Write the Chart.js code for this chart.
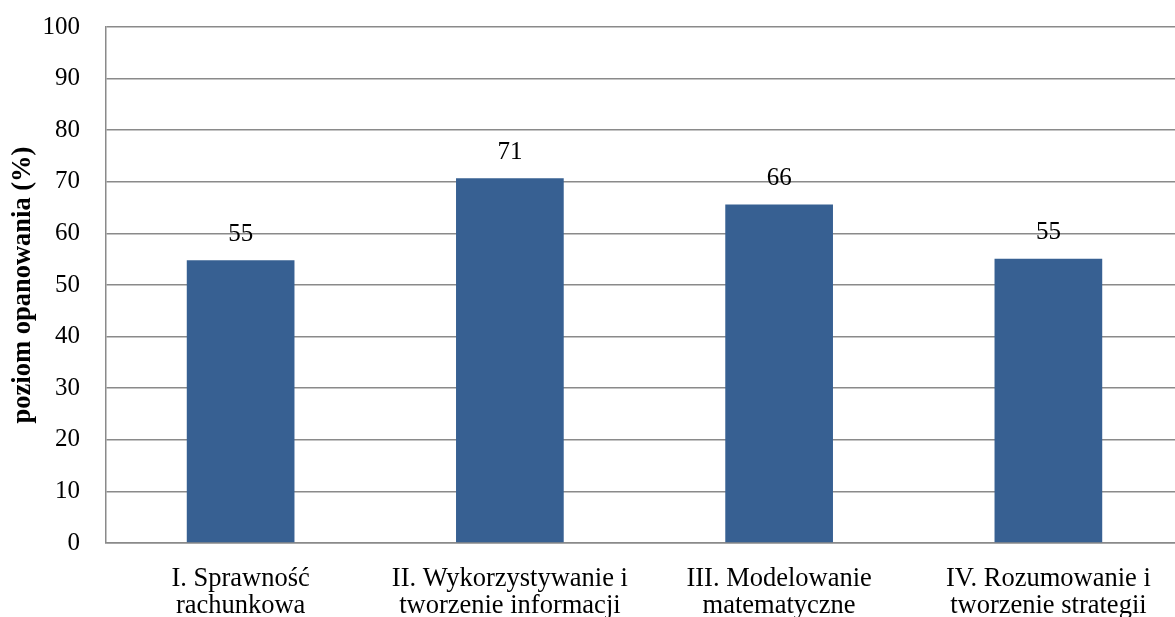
<!DOCTYPE html>
<html><head><meta charset="utf-8">
<script src="https://cdn.jsdelivr.net/npm/chart.js@4/dist/chart.umd.min.js"></script>
<style>html,body{margin:0;padding:0;overflow:hidden;background:#fff}#wrap{position:absolute;left:0;top:0;width:1188px;height:617px}</style>
</head><body><div id="wrap"><canvas id="c" width="1188" height="617"></canvas></div>
<script>
const categories = [["I. Sprawność","rachunkowa"],["II. Wykorzystywanie i","tworzenie informacji"],["III. Modelowanie","matematyczne"],["IV. Rozumowanie i","tworzenie strategii"]];
const values = [54.8, 70.7, 65.6, 55.1];
const yTicks = [0,10,20,30,40,50,60,70,80,90,100];
const yTitle = "poziom opanowania (%)";
const FONT = "'Liberation Serif','Times New Roman',serif";
const labelPlugin = {
  id:'labels',
  afterDatasetsDraw(chart){
    const ctx = chart.ctx;
    const meta = chart.getDatasetMeta(0);
    ctx.save();
    ctx.font = "25px " + FONT;
    ctx.fillStyle = "#000";
    ctx.textAlign = "center";
    ctx.textBaseline = "middle";
    meta.data.forEach((el,i)=>{
      ctx.fillText(String(Math.round(values[i])), el.x, el.y - 26);
    });
    ctx.restore();
  }
};
new Chart(document.getElementById('c'), {
  type:'bar',
  data:{labels:categories, datasets:[{data:values, backgroundColor:'#376092', borderWidth:0, barPercentage:0.4, categoryPercentage:1}]},
  options:{
    responsive:false, animation:false,
    layout:{padding:{top:27,right:5,left:0,bottom:0}},
    plugins:{legend:{display:false},tooltip:{enabled:false}},
    scales:{
      x:{
        grid:{display:false, drawTicks:false},
        border:{color:'#8a8a8a', width:1.5},
        ticks:{font:{family:FONT,size:26.5,lineHeight:1.02}, color:'#000', padding:23, maxRotation:0, autoSkip:false},
        afterFit(s){ s.height = 74; s.paddingLeft = 0; s.paddingRight = 0; }
      },
      y:{
        min:0,max:100,
        afterBuildTicks(s){ s.ticks = yTicks.map(v=>({value:v})); },
        grid:{color:'#8a8a8a', lineWidth:1.5, drawTicks:false},
        border:{color:'#8a8a8a', width:1.5},
        ticks:{font:{family:FONT,size:25}, color:'#000', padding:26},
        title:{display:true, text:yTitle, font:{family:FONT,size:26.5,weight:'bold'}, color:'#000', padding:{top:7,bottom:0}},
        afterFit(s){ s.width = 106; s.paddingTop = 0; s.paddingBottom = 0; }
      }
    }
  },
  plugins:[labelPlugin]
});
</script></body></html>
